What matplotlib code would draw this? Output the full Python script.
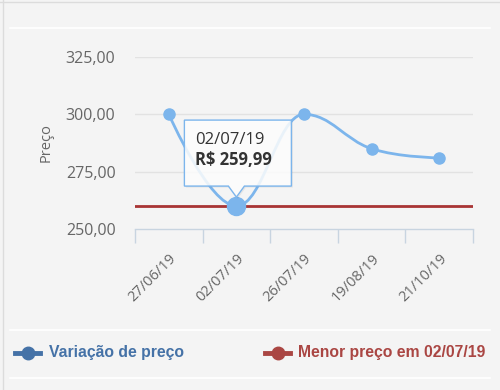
import numpy as np
import matplotlib.pyplot as plt
from matplotlib.path import Path
from matplotlib.patches import PathPatch, Polygon
from matplotlib.lines import Line2D
from matplotlib.transforms import IdentityTransform

# dados do gráfico
datas = ["27/06/19", "02/07/19", "26/07/19", "19/08/19", "21/10/19"]
precos = [300.00, 259.99, 300.00, 285.00, 281.00]
menor_preco = 259.99
data_menor = "02/07/19"
y_ticks = [250, 275, 300, 325]

azul = "#7cb5ec"
vermelho = "#a83434"
fundo = "#f4f4f4"


def spline_path(xs, ys, smoothing=1.5):
    # curva estilo highcharts (bezier com pontos de controle suavizados)
    denom = smoothing + 1
    n = len(xs)
    right = [None] * n
    verts = [(xs[0], ys[0])]
    codes = [Path.MOVETO]
    for i in range(1, n):
        x, y = xs[i], ys[i]
        lx, ly = xs[i - 1], ys[i - 1]
        left_c = (x, y)
        if i < n - 1:
            nx, ny = xs[i + 1], ys[i + 1]
            lcx = (smoothing * x + lx) / denom
            lcy = (smoothing * y + ly) / denom
            rcx = (smoothing * x + nx) / denom
            rcy = (smoothing * y + ny) / denom
            corr = (rcy - lcy) * (rcx - x) / (rcx - lcx) + y - rcy
            lcy += corr
            rcy += corr
            if lcy > ly and lcy > y:
                lcy = max(ly, y)
                rcy = 2 * y - lcy
            elif lcy < ly and lcy < y:
                lcy = min(ly, y)
                rcy = 2 * y - lcy
            if rcy > ny and rcy > y:
                rcy = max(ny, y)
                lcy = 2 * y - rcy
            elif rcy < ny and rcy < y:
                rcy = min(ny, y)
                lcy = 2 * y - rcy
            right[i] = (rcx, rcy)
            left_c = (lcx, lcy)
        prev_c = right[i - 1] if right[i - 1] is not None else (lx, ly)
        verts += [prev_c, left_c, (x, y)]
        codes += [Path.CURVE4] * 3
    return Path(verts, codes)


fig = plt.figure(figsize=(5, 3.9), dpi=100)
fig.patch.set_facecolor(fundo)

# moldura e separadores
fig.add_artist(Line2D([0.006, 0.006], [0, 1], color="#dcdcdc", lw=1))
fig.add_artist(Line2D([0, 1], [0.995, 0.995], color="#dcdcdc", lw=1))
fig.add_artist(Line2D([0.02, 0.98], [1 - 28 / 390, 1 - 28 / 390], color="white", lw=1.2))
fig.add_artist(Line2D([0.02, 0.98], [1 - 330 / 390, 1 - 330 / 390], color="white", lw=1.2))
fig.add_artist(Line2D([0.02, 0.98], [1 - 378 / 390, 1 - 378 / 390], color="white", lw=1.2))

ax = fig.add_axes([135 / 500, 161 / 390, 338 / 500, 172 / 390])
ax.set_facecolor(fundo)
x = np.arange(len(datas))
ax.set_xlim(-0.5, len(datas) - 0.5)
ax.set_ylim(y_ticks[0], y_ticks[-1])

for t in y_ticks[1:]:
    ax.axhline(t, color="#e2e2e2", lw=1, zorder=1)

for s in ["top", "right", "left"]:
    ax.spines[s].set_visible(False)
ax.spines["bottom"].set_color("#c8d4e0")
ax.spines["bottom"].set_linewidth(1)

ax.set_yticks(y_ticks)
ax.set_yticklabels([f"{t:.2f}".replace(".", ",") for t in y_ticks],
                   fontsize=11.5, color="#666666", family="Open Sans")
ax.tick_params(axis="y", length=0, pad=14)

ax.set_xticks(np.arange(-0.5, len(datas), 1.0), minor=False)
ax.set_xticklabels([])
ax.tick_params(axis="x", which="major", length=10, color="#c8d4e0", width=1)
ax.set_xticks(x, minor=True)
ax.set_xticklabels(datas, minor=True, rotation=45, ha="right", va="top",
                   rotation_mode="anchor", fontsize=10.5, color="#666666", family="Open Sans")
ax.tick_params(axis="x", which="minor", length=0, pad=16)

ax.set_ylabel("Preço", fontsize=10.5, color="#666666", family="Open Sans", labelpad=9)

# linha do menor preço
ax.axhline(menor_preco, color=vermelho, lw=2, zorder=3)

# curva de preços
ax.add_patch(PathPatch(spline_path(x, precos), fill=False, edgecolor=azul, lw=2, zorder=4))
ax.plot(x, precos, "o", color=azul, ms=8, zorder=5)
i_min = precos.index(min(precos))
ax.plot(x[i_min], precos[i_min], "o", color=azul, ms=13, zorder=5)

# tooltip
fig.canvas.draw()
px, py = ax.transData.transform((x[i_min], precos[i_min]))
l, r, b, t = px - 52, px + 55, py + 20, py + 86
tip = py + 9
forma = [(l, b), (px - 8, b), (px, tip), (px + 8, b), (r, b), (r, t), (l, t)]
sombra = [(u + 1.5, v - 1.5) for u, v in forma]
fig.add_artist(Polygon(sombra, closed=True, transform=IdentityTransform(),
                       facecolor="#000000", alpha=0.06, edgecolor="none", zorder=6))
fig.add_artist(Polygon(forma, closed=True, transform=IdentityTransform(),
                       facecolor="white", alpha=0.85, edgecolor="none", zorder=6))
fig.add_artist(Polygon(forma, closed=True, transform=IdentityTransform(),
                       facecolor="none", edgecolor=azul, lw=1, zorder=7))
fig.text((l + 11) / 500, (t - 20) / 390, datas[i_min], fontsize=12, color="#333333",
         family="Open Sans", va="center", zorder=8)
fig.text((l + 11) / 500, (t - 40) / 390, "R$ " + f"{menor_preco:.2f}".replace(".", ","),
         fontsize=12, color="#333333", family="Open Sans", weight="bold", va="center", zorder=8)

# legenda
ly = 1 - 353 / 390
fig.add_artist(Line2D([15 / 500, 40 / 500], [ly, ly], color="#4572a7", lw=3.5))
fig.add_artist(Line2D([27.5 / 500], [ly], marker="o", ms=9, color="#4572a7"))
fig.text(49 / 500, ly, "Variação de preço", fontsize=11.3, weight="bold",
         color="#4572a7", family="Liberation Sans", va="center")
fig.add_artist(Line2D([265 / 500, 290 / 500], [ly, ly], color="#aa4643", lw=3.5))
fig.add_artist(Line2D([277.5 / 500], [ly], marker="o", ms=9, color="#aa4643"))
fig.text(298 / 500, ly, "Menor preço em " + data_menor, fontsize=11.3, weight="bold",
         color="#aa4643", family="Liberation Sans", va="center")

fig.savefig("out.png", dpi=100, facecolor=fundo)
